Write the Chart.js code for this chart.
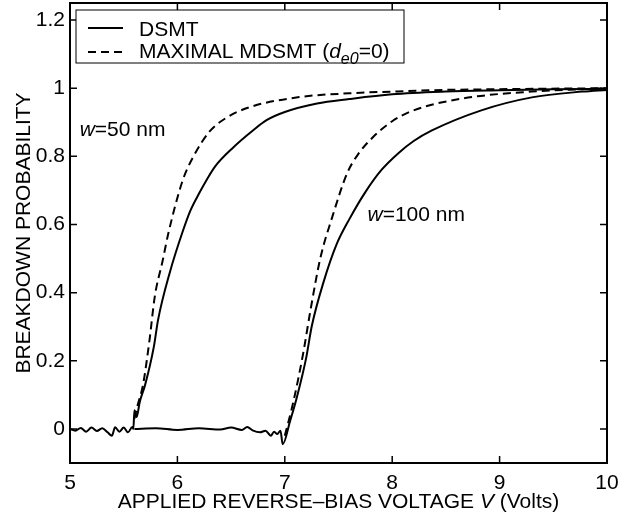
<!DOCTYPE html>
<html>
<head>
<meta charset="utf-8">
<script src="https://cdn.jsdelivr.net/npm/chart.js@4"></script>
<style>
  html, body { margin: 0; padding: 0; background: #fff; }
  #wrap { width: 630px; height: 518px; }
</style>
</head>
<body>
<div id="wrap"><canvas id="chart"></canvas></div>
<script>
// values (V in volts, breakdown probability)
const xTicks = [5, 6, 7, 8, 9, 10];
const yTicks = [0, 0.2, 0.4, 0.6, 0.8, 1, 1.2];

// w = 50 nm, DSMT (with noisy zero baseline before breakdown)
const v50Dsmt = [5.0, 5.05, 5.1, 5.15, 5.2, 5.25, 5.3, 5.35, 5.39, 5.42, 5.46, 5.5, 5.54, 5.58, 5.59,
                 5.6, 5.62, 5.65, 5.7, 5.78, 5.82, 5.93, 6.05, 6.12, 6.2, 6.28, 6.35, 6.52, 6.7, 6.83, 7.0, 7.3, 7.6,
                 8.0, 8.5, 9.0, 9.5, 10.0];
const p50Dsmt = [0, -0.005, 0.003, -0.008, 0.004, -0.006, 0.002, -0.01, -0.02, 0.005, -0.008, 0.004, -0.01, 0.006, 0.0,
                 0.055, 0.035, 0.08, 0.13, 0.24, 0.32, 0.46, 0.58, 0.64, 0.69, 0.735, 0.77, 0.826, 0.875, 0.906, 0.93, 0.955, 0.968,
                 0.982, 0.99, 0.994, 0.997, 0.998];

// w = 50 nm, maximal MDSMT
const v50Max = [5.6, 5.63, 5.68, 5.74, 5.79, 5.86, 5.92, 6.05, 6.15, 6.3, 6.45, 6.67, 7.14, 7.6, 8.0, 8.5, 9.0, 10.0];
const p50Max = [0.03, 0.07, 0.13, 0.26, 0.39, 0.49, 0.58, 0.73, 0.80, 0.873, 0.912, 0.944, 0.974, 0.985, 0.99, 0.995, 0.997, 1.0];

// w = 100 nm, DSMT
const v100Dsmt = [5.6, 5.8, 6.0, 6.2, 6.4, 6.5, 6.6, 6.65, 6.7, 6.77, 6.82, 6.87, 6.9, 6.93, 6.96, 6.98,
                  7.05, 7.11, 7.2, 7.25, 7.36, 7.48, 7.6, 7.75, 7.9, 8.06, 8.2, 8.37, 8.83, 9.3, 9.77, 10.0];
const p100Dsmt = [0, 0.002, -0.003, 0.002, -0.002, 0.004, -0.003, 0.006, -0.004, -0.01, -0.005, -0.02, -0.008, -0.015, -0.005, -0.045,
                  0.024, 0.09, 0.21, 0.30, 0.43, 0.54, 0.615, 0.695, 0.76, 0.81, 0.845, 0.876, 0.935, 0.973, 0.99, 0.995];

// w = 100 nm, maximal MDSMT
const v100Max = [7.0, 7.08, 7.17, 7.24, 7.33, 7.44, 7.58, 7.68, 7.82, 8.0, 8.2, 8.66, 9.3, 10.0];
const p100Max = [-0.02, 0.08, 0.22, 0.35, 0.50, 0.62, 0.75, 0.805, 0.856, 0.903, 0.935, 0.97, 0.99, 1.0];

const FONT = '"Liberation Sans", Arial, Helvetica, sans-serif';
const FS = 21;

const pts = (xs, ys) => xs.map((x, i) => ({ x: x, y: ys[i] }));

const solid = { borderColor: "#000", borderWidth: 2, pointRadius: 0, fill: false, cubicInterpolationMode: "monotone" };
const dashed = { borderColor: "#000", borderWidth: 2, pointRadius: 0, fill: false, cubicInterpolationMode: "monotone", borderDash: [8, 5] };

// draw a run of text pieces with different styles, left to right
function drawRuns(ctx, runs, x, y) {
    runs.forEach(r => {
        ctx.font = (r.italic ? "italic " : "") + (r.size || FS) + "px " + FONT;
        ctx.fillText(r.text, x, y + (r.dy || 0));
        x += ctx.measureText(r.text).width;
    });
    return x;
}
function runsWidth(ctx, runs) {
    let w = 0;
    runs.forEach(r => {
        ctx.font = (r.italic ? "italic " : "") + (r.size || FS) + "px " + FONT;
        w += ctx.measureText(r.text).width;
    });
    return w;
}

const decor = {
    id: "decor",
    afterDraw(chart) {
        const ctx = chart.ctx;
        const a = chart.chartArea;
        const xs = chart.scales.x, ys = chart.scales.y;
        ctx.save();
        ctx.fillStyle = "#000";
        ctx.strokeStyle = "#000";

        // frame with inward ticks on all sides
        ctx.lineWidth = 2;
        ctx.strokeRect(a.left, a.top, a.right - a.left, a.bottom - a.top);
        ctx.lineWidth = 1.5;
        ctx.beginPath();
        xTicks.forEach(v => {
            const px = xs.getPixelForValue(v);
            ctx.moveTo(px, a.bottom); ctx.lineTo(px, a.bottom - 7);
            ctx.moveTo(px, a.top); ctx.lineTo(px, a.top + 7);
        });
        yTicks.forEach(v => {
            const py = ys.getPixelForValue(v);
            ctx.moveTo(a.left, py); ctx.lineTo(a.left + 7, py);
            ctx.moveTo(a.right, py); ctx.lineTo(a.right - 7, py);
        });
        ctx.stroke();

        ctx.textBaseline = "alphabetic";
        ctx.textAlign = "left";

        // x axis title
        const xTitle = [
            { text: "APPLIED REVERSE\u2013BIAS VOLTAGE " },
            { text: "V", italic: true },
            { text: " (Volts)" }
        ];
        const xw = runsWidth(ctx, xTitle);
        drawRuns(ctx, xTitle, (a.left + a.right) / 2 - xw / 2, 508);

        // y axis title
        ctx.save();
        ctx.translate(30, (a.top + a.bottom) / 2);
        ctx.rotate(-Math.PI / 2);
        ctx.font = FS + "px " + FONT;
        ctx.textAlign = "center";
        ctx.fillText("BREAKDOWN PROBABILITY", 0, 0);
        ctx.restore();

        // curve labels
        drawRuns(ctx, [{ text: "w", italic: true }, { text: "=50 nm" }],
            xs.getPixelForValue(5.09), ys.getPixelForValue(0.86));
        drawRuns(ctx, [{ text: "w", italic: true }, { text: "=100 nm" }],
            xs.getPixelForValue(7.77), ys.getPixelForValue(0.61));

        // legend box
        const lx = a.left + 6, ly = a.top + 7;
        ctx.fillStyle = "#fff";
        ctx.fillRect(lx, ly, 328, 53);
        ctx.lineWidth = 1;
        ctx.strokeStyle = "#000";
        ctx.strokeRect(lx, ly, 328, 53);
        ctx.fillStyle = "#000";
        ctx.lineWidth = 2;
        ctx.beginPath();
        ctx.moveTo(lx + 12, ly + 18); ctx.lineTo(lx + 47, ly + 18);
        ctx.stroke();
        ctx.setLineDash([8, 5]);
        ctx.beginPath();
        ctx.moveTo(lx + 12, ly + 42); ctx.lineTo(lx + 47, ly + 42);
        ctx.stroke();
        ctx.setLineDash([]);
        drawRuns(ctx, [{ text: "DSMT" }], lx + 63, ly + 26);
        drawRuns(ctx, [
            { text: "MAXIMAL MDSMT (" },
            { text: "d", italic: true },
            { text: "e0", italic: true, size: 16, dy: 6 },
            { text: "=0)" }
        ], lx + 63, ly + 48);

        ctx.restore();
    }
};

const ctx = document.getElementById("chart").getContext("2d");
const chart = new Chart(ctx, {
    type: "line",
    data: {
        datasets: [
            Object.assign({ label: "DSMT w=50", data: pts(v50Dsmt, p50Dsmt) }, solid),
            Object.assign({ label: "MDSMT w=50", data: pts(v50Max, p50Max) }, dashed),
            Object.assign({ label: "DSMT w=100", data: pts(v100Dsmt, p100Dsmt) }, solid),
            Object.assign({ label: "MDSMT w=100", data: pts(v100Max, p100Max) }, dashed),
        ],
    },
    options: {
        responsive: true,
        maintainAspectRatio: false,
        animation: false,
        layout: { padding: { top: 3, right: 23, left: 0, bottom: 0 } },
        plugins: {
            legend: { display: false },
            tooltip: { enabled: false },
        },
        scales: {
            x: {
                type: "linear",
                min: 5,
                max: 10,
                afterBuildTicks: s => { s.ticks = xTicks.map(v => ({ value: v })); },
                afterFit: s => { s.height = 55; s.paddingLeft = 0; s.paddingRight = 0; },
                ticks: { color: "#000", font: { family: FONT, size: FS }, padding: 0, maxRotation: 0 },
                grid: { display: false },
                border: { display: false },
            },
            y: {
                type: "linear",
                min: -0.1,
                max: 1.25,
                afterBuildTicks: s => { s.ticks = yTicks.map(v => ({ value: v })); },
                afterFit: s => { s.width = 70; s.paddingTop = 0; s.paddingBottom = 0; },
                ticks: { color: "#000", font: { family: FONT, size: FS }, padding: 5, callback: v => String(v) },
                grid: { display: false, drawTicks: false },
                border: { display: false },
            },
        },
    },
    plugins: [decor],
});
</script>
</body>
</html>
